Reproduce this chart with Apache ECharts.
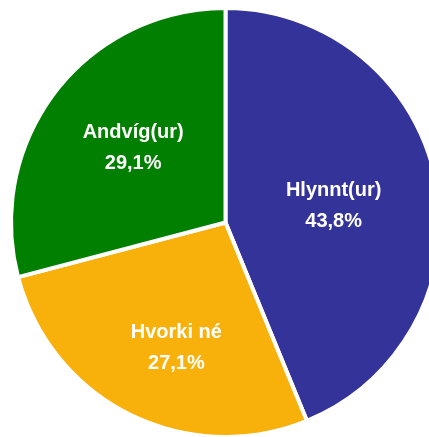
<!DOCTYPE html>
<html>
<head>
<meta charset="utf-8">
<script src="https://cdn.jsdelivr.net/npm/echarts@6/dist/echarts.min.js"></script>
<style>
  html, body { margin: 0; padding: 0; background: #fff; }
  #chart { width: 429px; height: 437px; }
</style>
</head>
<body>
<div id="chart"></div>
<script>
// gögn
var categories = ["Hlynnt(ur)", "Hvorki né", "Andvíg(ur)"];
var values = [43.8, 27.1, 29.1];

// útlit
var colors = ["#333399", "#F8B10B", "#007F00"];
var labelOffsets = [[0, 5], [0, 27], [-5, -7]]; // merkin eru ekki nákvæmlega á miðjum radíus

var chart = echarts.init(document.getElementById("chart"));

var pieData = [];
for (var i = 0; i < categories.length; i++) {
  pieData.push({
    name: categories[i],
    value: values[i],
    itemStyle: { color: colors[i] },
    label: { offset: labelOffsets[i] }
  });
}

var option = {
  animation: false,
  series: [
    {
      type: "pie",
      center: [225.5, 222.5],
      radius: 214.5,
      startAngle: 90,
      clockwise: true,
      avoidLabelOverlap: false,
      itemStyle: {
        borderColor: "#fff",
        borderWidth: 4
      },
      label: {
        show: true,
        position: "inside",
        color: "#fff",
        fontFamily: "Liberation Sans, Arial, sans-serif",
        fontWeight: "bold",
        fontSize: 20,
        lineHeight: 31,
        formatter: function (p) {
          return p.name + "\n" + p.value.toFixed(1).replace(".", ",") + "%";
        }
      },
      labelLine: { show: false },
      data: pieData
    }
  ]
};

chart.setOption(option);
</script>
</body>
</html>
